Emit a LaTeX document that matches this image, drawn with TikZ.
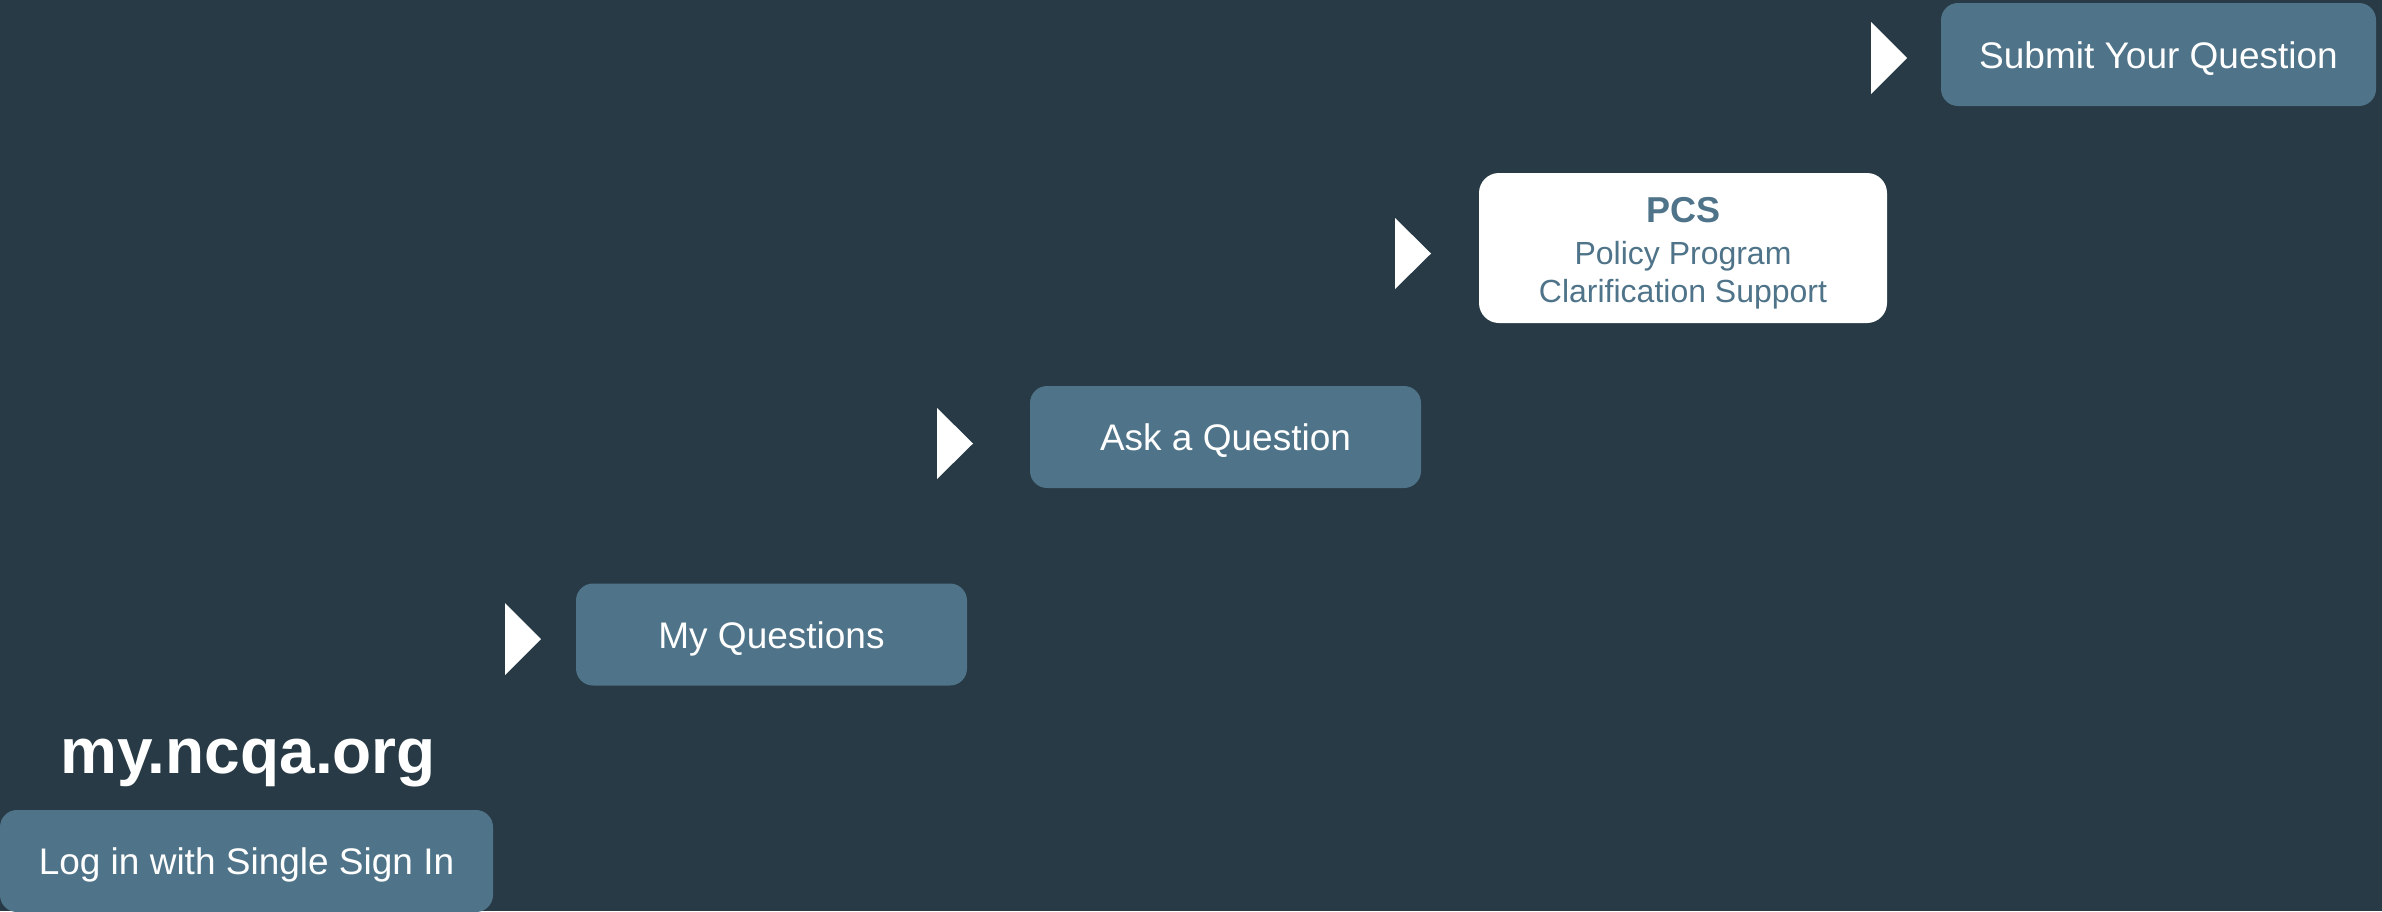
\documentclass[tikz,border=0pt]{standalone}
\usepackage{fontspec}
\setmainfont{Liberation Sans}
\definecolor{bgslate}{HTML}{273A45}
\definecolor{boxblue}{HTML}{4F7489}
\def\canvas{(0,0) rectangle (2382,911)}
\newcommand{\pointer}[3]{\fill[white] (#1,#2) -- (#1+36,{(#2+#3)/2}) -- (#1,#3) -- cycle}
\tikzset{
  stepbox/.style={fill=boxblue, text=white, rounded corners=17pt, inner sep=0pt,
    text height=27.5pt, text depth=0pt,
    minimum width=391pt, minimum height=102pt, font=\fontsize{37}{44}\selectfont},
  infobox/.style={fill=white, text=boxblue, rounded corners=20pt, inner sep=0pt, align=center,
    minimum width=408pt, minimum height=150pt, font=\fontsize{32}{38}\selectfont}
}

\begin{document}
\begin{tikzpicture}[x=1pt,y=-1pt]
\fill[bgslate] \canvas;
\useasboundingbox \canvas;
% site title:
\node[anchor=base, text=white, font=\fontsize{64}{72}\selectfont\bfseries] (site) at (248,773) {my.ncqa.org};
% steps:
\node[stepbox, minimum width=493pt] (login) at (246.5,861) {Log in with Single Sign In};
\node[stepbox] (myq) at (771.5,634.5) {My Questions};
\node[stepbox] (ask) at (1225.5,437) {Ask a Question};
\node[infobox] (pcs) at (1683,248) {{\fontsize{36}{40}\selectfont\bfseries\rule{0pt}{36pt}PCS}\\[4pt]Policy Program\\Clarification Support};
\node[stepbox, minimum width=435pt, minimum height=103pt] (submit) at (2158.5,54.5) {Submit Your Question};
% pointers:
\pointer{505}{603}{675};
\pointer{937}{408}{479};
\pointer{1395}{218}{289};
\pointer{1871}{22}{94};
\end{tikzpicture}
\end{document}
